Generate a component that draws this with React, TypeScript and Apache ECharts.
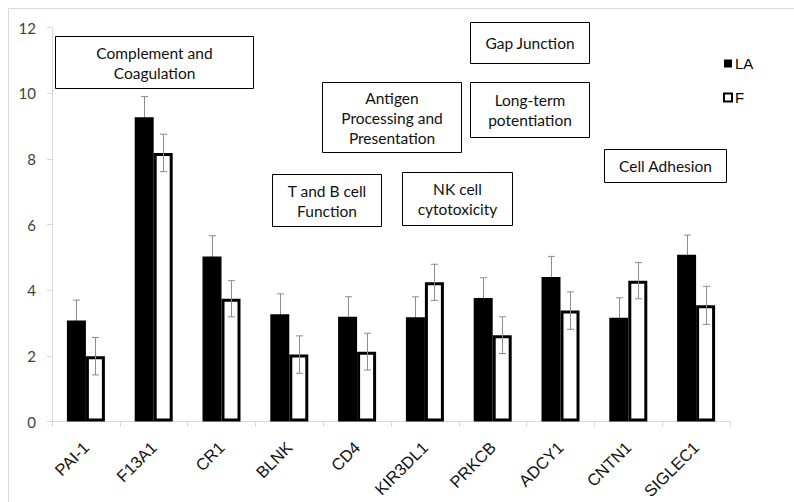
import React, { useEffect, useRef } from "react";
import * as echarts from "echarts";

const categories = ["PAI-1", "F13A1", "CR1", "BLNK", "CD4", "KIR3DL1", "PRKCB", "ADCY1", "CNTN1", "SIGLEC1"];
const laValues = [3.08, 9.27, 5.03, 3.27, 3.19, 3.18, 3.76, 4.4, 3.16, 5.08];
const fValues = [1.99, 8.18, 3.74, 2.04, 2.13, 4.24, 2.63, 3.38, 4.29, 3.54];
const laErrors = [0.62, 0.63, 0.63, 0.62, 0.61, 0.62, 0.62, 0.63, 0.61, 0.6];
const fErrors = [0.57, 0.57, 0.55, 0.57, 0.56, 0.55, 0.56, 0.57, 0.55, 0.58];
const seriesNames = ["LA", "F"];
const yTicks = [0, 2, 4, 6, 8, 10, 12];

const annotationTexts = [
  "Complement and\nCoagulation",
  "Antigen\nProcessing and\nPresentation",
  "Gap Junction",
  "Long-term\npotentiation",
  "T and B cell\nFunction",
  "NK cell\ncytotoxicity",
  "Cell Adhesion",
];

const BAR_W = 19;
const BOX_FONT = '15.5px Lato, "Open Sans", sans-serif';

function box(text: string, x: number, y: number, w: number, h: number) {
  return {
    type: "group",
    children: [
      {
        type: "rect",
        shape: { x: x + 0.5, y: y + 0.5, width: w, height: h },
        style: { fill: "#ffffff", stroke: "#000000", lineWidth: 1 },
        z: 10,
      },
      {
        type: "text",
        x: x + w / 2 + 0.5,
        y: y + h / 2 + 0.5,
        style: {
          text,
          font: BOX_FONT,
          fill: "#111111",
          align: "center",
          verticalAlign: "middle",
          lineHeight: 20,
        },
        z: 11,
      },
    ],
  };
}

function errorRender(values: number[], errors: number[], offset: number) {
  return (params: any, api: any) => {
    const i = api.value(0);
    const v = values[i];
    const e = errors[i];
    const top = api.coord([i, v + e]);
    const bot = api.coord([i, v - e]);
    const x = Math.round(top[0] + offset) + 0.5;
    const cap = 3.5;
    const style = { stroke: "#8c8c8c", lineWidth: 1 };
    return {
      type: "group",
      children: [
        { type: "line", shape: { x1: x, y1: top[1], x2: x, y2: bot[1] }, style },
        { type: "line", shape: { x1: x - cap, y1: top[1], x2: x + cap, y2: top[1] }, style },
        { type: "line", shape: { x1: x - cap, y1: bot[1], x2: x + cap, y2: bot[1] }, style },
      ],
    };
  };
}

export default function App() {
  const ref = useRef<HTMLDivElement>(null);

  useEffect(() => {
    if (!ref.current) return;
    const chart = echarts.init(ref.current, null, { renderer: "svg" });
    const axisGray = "#d9d9d9";
    const option: any = {
      animation: false,
      backgroundColor: "#ffffff",
      grid: { left: 52, right: 64, top: 27.5, bottom: 79.7, containLabel: false },
      legend: {
        data: seriesNames,
        orient: "vertical",
        left: 718,
        top: 51,
        icon: "rect",
        itemWidth: 8,
        itemHeight: 8,
        itemGap: 19,
        textStyle: { fontFamily: '"Liberation Sans", Arial, sans-serif', fontSize: 15, color: "#000", padding: [0, 0, 0, -2] },
      },
      xAxis: {
        type: "category",
        data: categories,
        boundaryGap: true,
        axisLine: { show: true, lineStyle: { color: axisGray, width: 1 } },
        axisTick: { show: true, length: 5, lineStyle: { color: axisGray } },
        axisLabel: {
          rotate: 45,
          interval: 0,
          margin: 23,
          fontFamily: '"Liberation Sans", Arial, sans-serif',
          fontSize: 16.5,
          color: "#111111",
        },
        splitLine: { show: false },
      },
      yAxis: {
        type: "value",
        min: yTicks[0],
        max: yTicks[yTicks.length - 1],
        interval: 2,
        axisLine: { show: true, lineStyle: { color: axisGray, width: 1 } },
        axisTick: { show: true, length: 5, lineStyle: { color: axisGray } },
        axisLabel: {
          margin: 16,
          fontFamily: 'Lato, "Open Sans", sans-serif',
          fontSize: 15,
          color: "#404040",
        },
        splitLine: { show: false },
      },
      series: [
        {
          name: "LA",
          type: "bar",
          data: laValues,
          barWidth: BAR_W,
          barGap: "0%",
          itemStyle: { color: "#000000" },
          z: 2,
        },
        {
          name: "F",
          type: "bar",
          data: fValues,
          barWidth: BAR_W,
          barGap: "0%",
          itemStyle: { color: "#ffffff", borderColor: "#000000", borderWidth: 3 },
          z: 3,
        },
        {
          name: "LA-err",
          type: "custom",
          renderItem: errorRender(laValues, laErrors, -BAR_W / 2),
          data: laValues.map((v, i) => [i, v]),
          encode: { x: 0, y: 1 },
          z: 1,
          silent: true,
        },
        {
          name: "F-err",
          type: "custom",
          renderItem: errorRender(fValues, fErrors, BAR_W / 2),
          data: fValues.map((v, i) => [i, v]),
          encode: { x: 0, y: 1 },
          z: 5,
          silent: true,
        },
      ],
      graphic: [
        {
          type: "rect",
          shape: { x: 8.5, y: 8.5, width: 820, height: 520 },
          style: { fill: "none", stroke: "#d9d9d9", lineWidth: 1 },
          silent: true,
        },
        box(annotationTexts[0], 55, 36, 198, 52),
        box(annotationTexts[1], 322, 82, 139, 70),
        box(annotationTexts[2], 470, 22, 119, 41),
        box(annotationTexts[3], 470, 82, 119, 55),
        box(annotationTexts[4], 272, 174, 109, 52),
        box(annotationTexts[5], 402, 172, 110, 53),
        box(annotationTexts[6], 604, 149, 122, 33),
      ],
    };
    chart.setOption(option);
    return () => chart.dispose();
  }, []);

  return (
    <div
      ref={ref}
      style={{ position: "fixed", left: 0, top: 0, width: 794, height: 502, background: "#fff" }}
    />
  );
}
